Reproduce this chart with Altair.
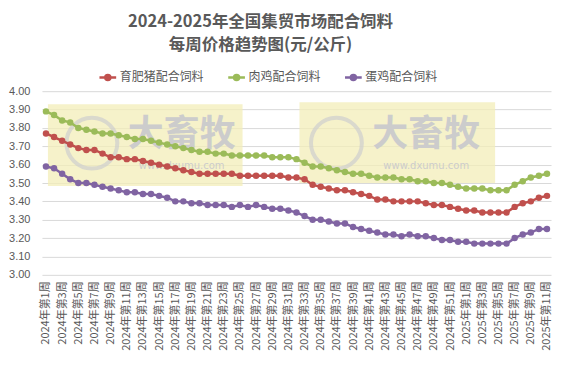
import altair as alt
import pandas as pd

weeks_2024 = [f"2024年第{i}周" for i in range(1, 53)]
weeks_2025 = [f"2025年第{i}周" for i in range(1, 12)]
categories = weeks_2024 + weeks_2025

series_names = ["育肥猪配合饲料", "肉鸡配合饲料", "蛋鸡配合饲料"]
colors = ["#C0504D", "#9BBB59", "#8064A2"]

pig = [3.77, 3.75, 3.73, 3.71, 3.69, 3.68, 3.68, 3.66, 3.64, 3.64,
       3.63, 3.63, 3.62, 3.61, 3.60, 3.59, 3.58, 3.57, 3.56, 3.55,
       3.55, 3.55, 3.55, 3.55, 3.54, 3.54, 3.54, 3.54, 3.54, 3.54,
       3.53, 3.53, 3.52, 3.49, 3.48, 3.47, 3.46, 3.46, 3.45, 3.44,
       3.43, 3.41, 3.41, 3.40, 3.40, 3.40, 3.40, 3.39, 3.38, 3.38,
       3.37, 3.36, 3.35, 3.35, 3.34, 3.34, 3.34, 3.34, 3.37, 3.39,
       3.40, 3.42, 3.43]
broiler = [3.89, 3.87, 3.84, 3.83, 3.80, 3.79, 3.78, 3.77, 3.77, 3.76,
           3.75, 3.74, 3.74, 3.73, 3.72, 3.71, 3.70, 3.69, 3.68, 3.67,
           3.67, 3.66, 3.66, 3.65, 3.65, 3.65, 3.65, 3.65, 3.64, 3.64,
           3.64, 3.63, 3.61, 3.59, 3.59, 3.58, 3.57, 3.56, 3.55, 3.55,
           3.54, 3.53, 3.53, 3.53, 3.52, 3.52, 3.51, 3.51, 3.50, 3.50,
           3.49, 3.48, 3.47, 3.47, 3.47, 3.46, 3.46, 3.46, 3.49, 3.51,
           3.53, 3.54, 3.55]
layer = [3.59, 3.58, 3.55, 3.52, 3.50, 3.50, 3.49, 3.48, 3.47, 3.46,
         3.45, 3.45, 3.44, 3.44, 3.43, 3.42, 3.40, 3.40, 3.39, 3.39,
         3.38, 3.38, 3.38, 3.37, 3.38, 3.37, 3.38, 3.37, 3.36, 3.36,
         3.35, 3.34, 3.32, 3.30, 3.30, 3.29, 3.28, 3.28, 3.26, 3.25,
         3.24, 3.23, 3.22, 3.22, 3.21, 3.22, 3.21, 3.21, 3.20, 3.19,
         3.19, 3.18, 3.18, 3.17, 3.17, 3.17, 3.17, 3.17, 3.20, 3.22,
         3.23, 3.25, 3.25]

rows = []
for name, vals in zip(series_names, [pig, broiler, layer]):
    for c, v in zip(categories, vals):
        rows.append({"week": c, "series": name, "price": v})
df = pd.DataFrame(rows)

FONT = "Noto Sans CJK SC"
GRAY = "#595959"

x_enc = alt.X("week:N", sort=categories, title=None,
              scale=alt.Scale(paddingOuter=0.5, paddingInner=0),
              axis=alt.Axis(values=categories[::2], labelAngle=270,
                            labelFontSize=11, labelColor=GRAY, labelFont=FONT,
                            ticks=False, domain=False, labelPadding=6,
                            labelBaseline="middle", labelAlign="right"))
y_enc = alt.Y("price:Q", title=None,
              scale=alt.Scale(domain=[3.0, 4.0], nice=False, zero=False),
              axis=alt.Axis(values=[3.0 + 0.1 * i for i in range(11)], format=".2f",
                            labelFontSize=11, labelColor=GRAY, labelFont="Liberation Sans",
                            ticks=False, domain=False, gridColor="#D9D9D9",
                            labelPadding=12))

# watermark decoration (background)
wm_boxes = alt.layer(
    alt.Chart().mark_rect(color="#F3EDB8", opacity=0.75).encode(
        x=alt.value(6), x2=alt.value(201), y=alt.value(13), y2=alt.value(95)),
    alt.Chart().mark_rect(color="#F3EDB8", opacity=0.75).encode(
        x=alt.value(258), x2=alt.value(454), y=alt.value(11), y2=alt.value(92)),
)
wm_marks = alt.layer(
    alt.Chart().mark_point(shape="circle", size=2600, filled=False, color="#CFCFCF", strokeWidth=4).encode(
        x=alt.value(50), y=alt.value(52)),
    alt.Chart().mark_point(shape="circle", size=2600, filled=False, color="#CFCFCF", strokeWidth=4).encode(
        x=alt.value(295), y=alt.value(52)),
    alt.Chart().mark_text(text="大畜牧", fontSize=36, fontWeight="bold", font=FONT, color="#CCCCCC").encode(
        x=alt.value(140), y=alt.value(44)),
    alt.Chart().mark_text(text="大畜牧", fontSize=36, fontWeight="bold", font=FONT, color="#CCCCCC").encode(
        x=alt.value(385), y=alt.value(44)),
    alt.Chart().mark_text(text="www.dxumu.com", fontSize=10, font="DejaVu Sans", color="#CCCCCC").encode(
        x=alt.value(140), y=alt.value(75)),
    alt.Chart().mark_text(text="www.dxumu.com", fontSize=10, font="DejaVu Sans", color="#CCCCCC").encode(
        x=alt.value(385), y=alt.value(75)),
)

lines = alt.Chart(df).mark_line(
    strokeWidth=2.5,
    point=alt.OverlayMarkDef(filled=True, size=42, opacity=1),
).encode(
    x=x_enc,
    y=y_enc,
    color=alt.Color("series:N", sort=series_names,
                    scale=alt.Scale(domain=series_names, range=colors),
                    legend=alt.Legend(title=None, orient="none", direction="horizontal",
                                      legendX=56, legendY=-24,
                                      labelFont=FONT, labelFontSize=12, labelColor=GRAY,
                                      symbolType="M-1,0L1,0M0.3,0A0.3,0.3,0,1,1,-0.3,0A0.3,0.3,0,1,1,0.3,0",
                                      symbolSize=280, symbolStrokeWidth=2.5,
                                      columnPadding=18, labelOffset=2)),
)

chart = alt.layer(wm_boxes, wm_marks, lines).properties(
    width=510, height=184,
    autosize=alt.AutoSizeParams(type="none"),
    padding={"left": 34, "top": 83, "right": 8, "bottom": 90},
    title=alt.TitleParams(
        text=["2024-2025年全国集贸市场配合饲料", "每周价格趋势图(元/公斤)"],
        font=FONT, fontSize=16.5, fontWeight="bold", color=GRAY,
        anchor="middle", dx=-36, offset=14, lineHeight=23),
).configure_view(stroke=None)

chart.save("out.html", embed_options={"renderer": "svg", "actions": False})
